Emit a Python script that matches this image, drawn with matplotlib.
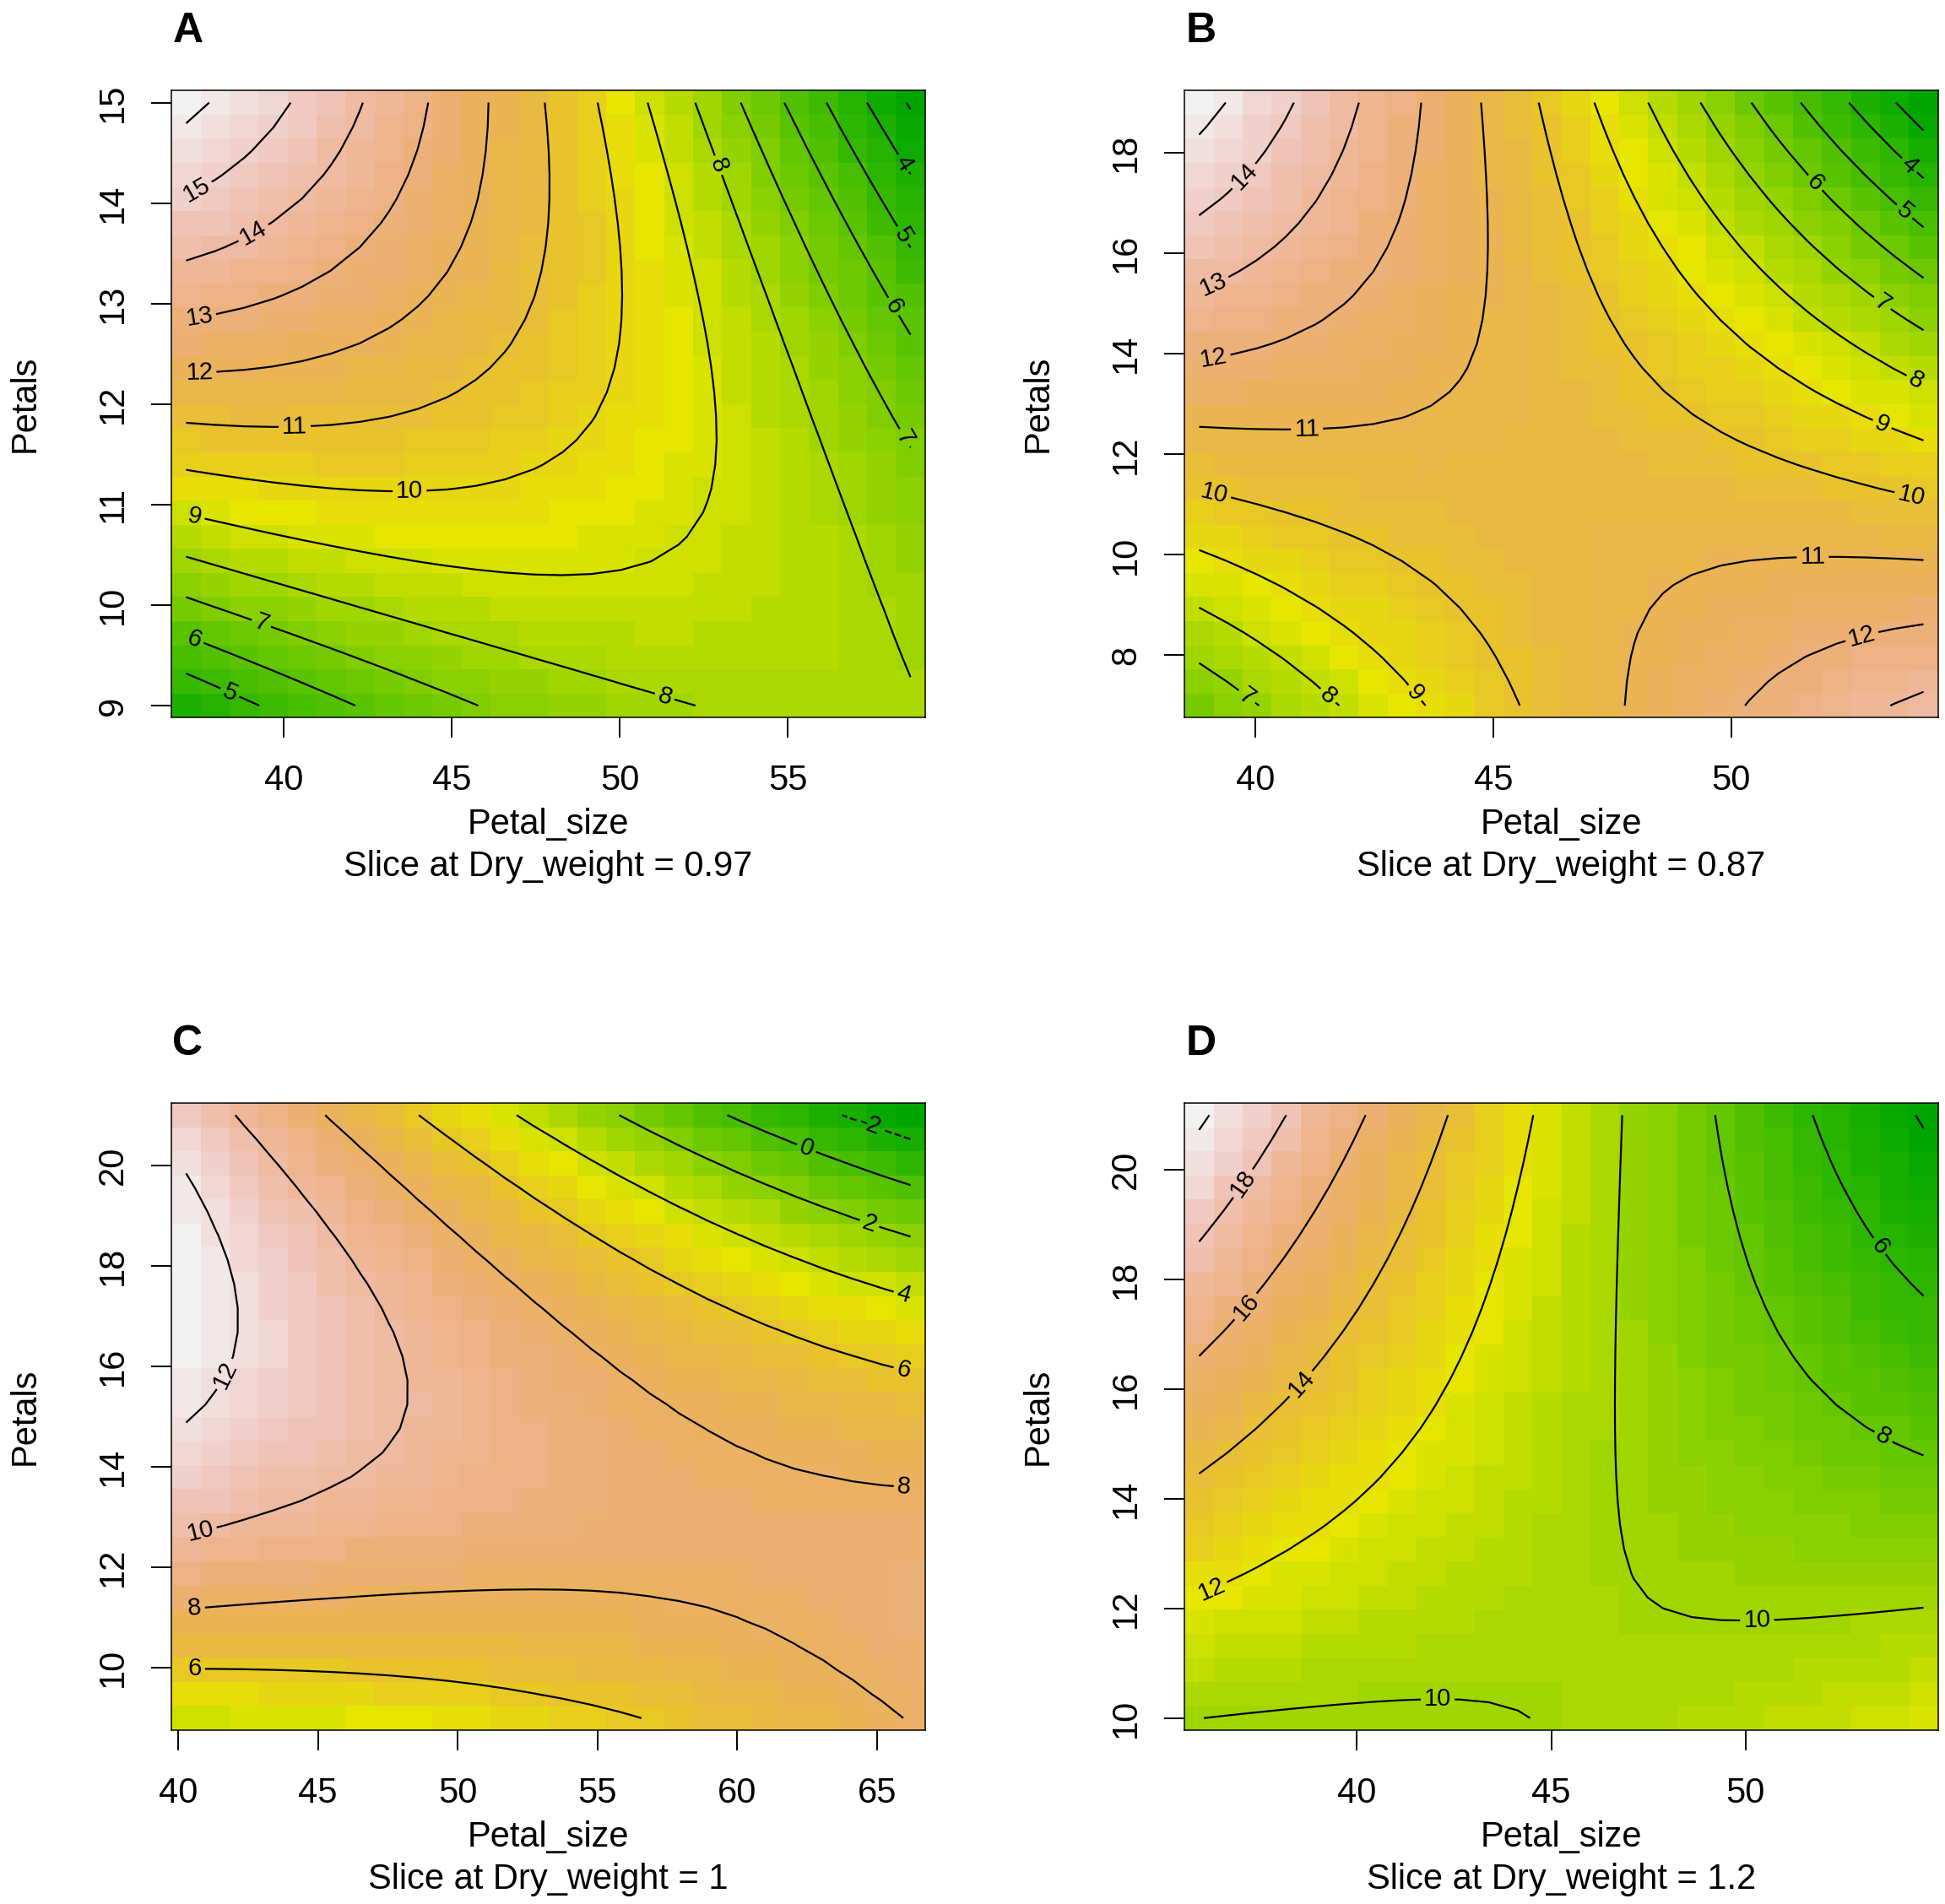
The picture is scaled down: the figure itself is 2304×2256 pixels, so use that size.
import numpy as np
import matplotlib
matplotlib.use("Agg")
import matplotlib.pyplot as plt
from matplotlib.colors import ListedColormap, BoundaryNorm, hsv_to_rgb

plt.rcParams['font.family'] = ['Liberation Sans', 'DejaVu Sans']

# ---- points read along the contour lines of each panel: Petal_size, Petals, level ----
# panel A (slice at Dry_weight = 0.97)
a_px = [37.13, 37.76,
        38.18, 39.02, 39.68, 40.23,
        37.1, 39.64, 41.11, 41.94, 42.36,
        38.3, 41.35, 42.45, 43.0, 44.33,
        38.4, 42.64, 44.48, 45.59, 46.14,
        37.1, 43.56, 45.96, 47.25, 47.8,
        37.1, 42.64, 47.25, 48.91, 49.83, 49.98, 49.37,
        37.93, 42.64, 47.62, 50.02, 51.86, 52.88, 52.6, 50.85,
        37.1, 44.48, 50.94, 52.32, 52.23, 53.15, 55.55, 57.4, 58.14, 58.32,
        37.1, 41.7, 45.78, 53.6, 55.55, 58.14,
        37.93, 42.08, 54.9, 57.77, 58.65,
        37.1, 39.32, 56.2, 57.95,
        57.4, 58.14,
        58.6]
a_py = [14.80, 15.0,
        14.31, 14.51, 14.73, 15.0,
        13.42, 13.8, 14.23, 14.68, 15.0,
        12.94, 13.34, 13.53, 13.78, 15.0,
        12.33, 12.66, 13.19, 14.01, 15.0,
        11.81, 11.95, 12.36, 13.07, 15.0,
        11.34, 11.14, 11.30, 11.71, 12.48, 13.66, 15.0,
        10.83, 10.53, 10.29, 10.33, 10.71, 11.6, 13.07, 15.0,
        10.47, 9.77, 9.15, 9.0, 15.0, 14.07, 12.36, 10.83, 9.83, 9.0,
        10.06, 9.53, 9.0, 15.0, 13.66, 11.77,
        9.59, 9.0, 15.0, 13.07, 12.66,
        9.32, 9.0, 15.0, 13.9,
        15.0, 14.52,
        14.96]
a_pz = [16] * 2 + [15] * 4 + [14] * 5 + [13] * 5 + [12] * 5 + [11] * 5 + [10] * 7 + \
       [9] * 8 + [8] * 10 + [7] * 6 + [6] * 5 + [5] * 4 + [4] * 2 + [3]

# panel B (slice at Dry_weight = 0.87)
b_px = [38.81, 39.39,
        38.81, 39.45, 40.17, 40.8,
        39.65, 40.56, 41.48, 42.19,
        39.71, 41.34, 42.39, 43.17, 43.5,
        38.81, 43.43, 44.35, 44.8, 44.91, 44.77,
        47.74, 48.0, 48.78, 50.35, 54.05,
        39.65, 41.87, 43.43, 44.48, 45.52,
        45.94, 46.57, 47.74, 49.05, 51.0, 53.16,
        38.81, 40.56, 42.13, 43.17, 47.13, 47.74, 49.05, 51.0, 54.05,
        38.81, 40.3, 41.21, 48.26, 49.7, 51.66, 53.49,
        38.81, 39.58, 49.37, 51.0, 52.83, 54.05,
        50.42, 51.53, 54.05,
        51.46, 53.36,
        52.44, 53.49,
        53.45, 54.05,
        50.35, 51.0, 52.05, 54.05,
        53.49, 54.05]
b_py = [18.39, 19.0,
        16.74, 17.21, 17.8, 19.0,
        15.65, 16.21, 17.27, 19.0,
        14.01, 14.62, 15.98, 18.09, 19.0,
        12.54, 12.74, 13.27, 14.45, 16.33, 19.0,
        7.04, 8.56, 9.56, 9.92, 9.88,
        11.06, 10.39, 9.51, 8.56, 7.04,
        19.0, 16.33, 14.21, 12.92, 11.86, 11.29,
        10.09, 9.39, 8.33, 7.51, 19.0, 17.27, 15.15, 13.62, 12.27,
        8.95, 8.21, 7.5, 19.0, 16.8, 15.04, 13.62,
        7.84, 7.41, 19.0, 17.15, 15.15, 14.45,
        19.0, 17.62, 15.5,
        19.0, 17.09,
        19.0, 18.09,
        19.0, 18.45,
        7.04, 7.68, 8.27, 8.6,
        7.04, 7.25]
b_pz = [15] * 2 + [14] * 4 + [13] * 4 + [12] * 5 + [11] * 6 + [11] * 5 + [10] * 5 + \
       [10] * 6 + [9] * 9 + [8] * 7 + [7] * 6 + [6] * 3 + [5] * 2 + [4] * 2 + [3] * 2 + \
       [12] * 4 + [13] * 2

# panel C (slice at Dry_weight = 1)
c_px = [40.29, 41.4, 42.06, 42.17, 42.02, 40.29,
        42.06, 43.61, 45.39, 46.94, 47.94, 48.2, 47.83, 46.72, 44.28, 41.84,
        45.28, 48.05, 51.37, 54.7, 56.92, 60.24, 62.46, 65.23,
        41.4, 45.83, 51.37, 54.7, 58.03, 61.35, 63.57, 66.12,
        41.29, 44.72, 49.16, 53.59, 56.58,
        48.6, 51.37, 54.7, 58.03, 61.35, 65.12,
        52.1, 54.7, 58.03, 61.35, 65.12,
        55.7, 59.13, 62.46, 66.19,
        59.58, 61.8, 66.19,
        63.6, 66.19]
c_py = [19.86, 18.91, 17.61, 16.78, 16.18, 14.82,
        21.0, 19.98, 18.55, 17.25, 16.07, 15.36, 14.41, 13.76, 13.28, 12.83,
        21.0, 19.38, 17.73, 16.18, 15.36, 14.29, 13.82, 13.58,
        11.21, 11.45, 11.56, 11.54, 11.15, 10.5, 9.79, 9.02,
        9.99, 9.93, 9.79, 9.43, 9.02,
        21.0, 19.98, 18.79, 17.73, 16.78, 16.04,
        21.0, 20.09, 19.15, 18.32, 17.55,
        21.0, 20.21, 19.38, 18.55,
        21.0, 20.5, 19.6,
        21.0, 20.49]
c_pz = [12] * 6 + [10] * 10 + [8] * 8 + [8] * 8 + [6] * 5 + [6] * 6 + [4] * 5 + \
       [2] * 4 + [0] * 3 + [-2] * 2

# panel D (slice at Dry_weight = 1.2)
d_px = [36.13, 38.88, 41.28, 43.51, 44.28,
        46.87, 46.71, 46.63, 46.87, 47.19, 47.83, 49.27, 52.46, 54.58,
        36.96, 38.24, 39.68, 41.28, 42.88, 43.83, 44.55,
        35.94, 37.28, 39.04, 40.32, 41.28, 42.36,
        35.94, 36.73, 37.6, 38.88, 40.24,
        35.94, 36.65, 37.44, 38.21,
        35.94, 36.25,
        49.21, 49.9, 50.86, 51.66, 52.94, 54.58,
        51.69, 52.46, 53.1, 54.58,
        54.3, 54.58]
d_py = [10.03, 10.21, 10.3, 10.23, 10.01,
        21.0, 18.23, 14.74, 13.22, 12.57, 12.02, 11.78, 11.83, 11.95,
        12.51, 13.0, 13.87, 15.18, 17.14, 18.99, 21.0,
        14.47, 15.18, 16.49, 17.9, 19.31, 21.0,
        16.59, 17.14, 18.0, 19.31, 21.0,
        18.68, 19.21, 20.18, 21.0,
        20.73, 21.0,
        21.0, 19.1, 17.57, 16.59, 15.4, 14.74,
        21.0, 19.75, 18.88, 17.63,
        21.0, 20.71]
d_pz = [10] * 5 + [10] * 9 + [12] * 7 + [14] * 6 + [16] * 5 + [18] * 4 + [20] * 2 + \
       [8] * 6 + [6] * 4 + [4] * 2

# grid ranges (Petal_size, Petals)
a_xrange, a_yrange = [37.1, 58.65], [9, 15]
b_xrange, b_yrange = [38.81, 54.05], [7, 19]
c_xrange, c_yrange = [40.29, 66.19], [9, 21]
d_xrange, d_yrange = [35.94, 54.58], [10, 21]

a_levels = np.arange(3, 17, 1)
b_levels = np.arange(3, 16, 1)
c_levels = np.arange(-2, 14, 2)
d_levels = np.arange(4, 22, 2)

a_xticks, a_yticks = [40, 45, 50, 55], [9, 10, 11, 12, 13, 14, 15]
b_xticks, b_yticks = [40, 45, 50], [8, 10, 12, 14, 16, 18]
c_xticks, c_yticks = [40, 45, 50, 55, 60, 65], [10, 12, 14, 16, 18, 20]
d_xticks, d_yticks = [40, 45, 50], [10, 12, 14, 16, 18, 20]

slices = ["0.97", "0.87", "1", "1.2"]
letters = ["A", "B", "C", "D"]

# where R put the contour labels
a_labpos = [(37.5, 14.08), (39.13, 13.69), (37.5, 12.85), (37.5, 12.29), (40.33, 11.76),
            (43.75, 11.11), (37.35, 10.87), (51.31, 9.06), (52.88, 14.37), (39.32, 9.80),
            (58.41, 11.65), (37.35, 9.67), (58.04, 12.95), (38.39, 9.12), (58.32, 13.66),
            (58.32, 14.37)]
b_labpos = [(39.78, 17.51), (39.12, 15.35), (39.12, 13.9), (41.08, 12.42), (39.12, 11.17),
            (43.3, 7.21), (41.48, 7.15), (39.84, 7.21), (51.72, 9.92), (52.77, 8.33),
            (53.78, 11.13), (53.16, 12.56), (53.9, 13.5), (53.16, 14.98), (51.72, 17.36),
            (53.62, 16.8), (53.68, 17.68)]
c_labpos = [(41.73, 15.83), (40.8, 12.7), (40.6, 11.17), (40.6, 9.99), (65.95, 13.55),
            (65.95, 15.95), (65.95, 17.45), (64.68, 18.77), (62.46, 20.33), (64.68, 20.71)]
d_labpos = [(37.08, 19.75), (37.12, 17.52), (38.56, 16.1), (36.3, 12.28), (42.08, 10.26),
            (50.3, 11.73), (53.5, 15.07), (53.34, 18.55)]


def terrain_colors(n):
    k = n // 2
    h = np.r_[np.linspace(4 / 12, 2 / 12, k), np.linspace(2 / 12, 0, n - k + 1)[1:]]
    s = np.r_[np.linspace(1, 1, k), np.linspace(1, 0, n - k + 1)[1:]]
    v = np.r_[np.linspace(0.65, 0.9, k), np.linspace(0.9, 0.95, n - k + 1)[1:]]
    return hsv_to_rgb(np.column_stack([h, s, v]))


def surface(px, py, pz, xr, yr, n=26):
    # second order response surface through the read points
    px, py, pz = np.asarray(px), np.asarray(py), np.asarray(pz, dtype=float)
    mx, my = np.mean(px), np.mean(py)
    u, v = px - mx, py - my
    A = np.column_stack([np.ones_like(u), u, v, u * u, v * v, u * v])
    coef = np.linalg.lstsq(A, pz, rcond=None)[0]
    gx = np.linspace(xr[0], xr[1], n)
    gy = np.linspace(yr[0], yr[1], n)
    U, V = np.meshgrid(gx - mx, gy - my)
    Z = coef[0] + coef[1] * U + coef[2] * V + coef[3] * U * U + coef[4] * V * V + coef[5] * U * V
    return gx, gy, Z


panels = [
    (a_px, a_py, a_pz, a_xrange, a_yrange, a_levels, a_xticks, a_yticks, a_labpos),
    (b_px, b_py, b_pz, b_xrange, b_yrange, b_levels, b_xticks, b_yticks, b_labpos),
    (c_px, c_py, c_pz, c_xrange, c_yrange, c_levels, c_xticks, c_yticks, c_labpos),
    (d_px, d_py, d_pz, d_xrange, d_yrange, d_levels, d_xticks, d_yticks, d_labpos),
]

W, H = 2304, 2256
fig = plt.figure(figsize=(W / 100, H / 100), dpi=100)
lefts = [203.3, 1403.3, 203.3, 1403.3]
bottoms = [850.3, 850.3, 2050, 2050]
bw, bh = 892.4, 743
fs = 30

cmap = ListedColormap(terrain_colors(50))

for i, (px, py, pz, xr, yr, levels, xt, yt, labpos) in enumerate(panels):
    ax = fig.add_axes([lefts[i] / W, 1 - bottoms[i] / H, bw / W, bh / H])
    gx, gy, Z = surface(px, py, pz, xr, yr)
    norm = BoundaryNorm(np.linspace(Z.min(), Z.max(), 51), 50)
    ax.pcolormesh(gx, gy, Z, shading='nearest', cmap=cmap, norm=norm)
    dx = (gx[1] - gx[0]) / 2
    dy = (gy[1] - gy[0]) / 2
    ax.set_xlim(gx[0] - dx, gx[-1] + dx)
    ax.set_ylim(gy[0] - dy, gy[-1] + dy)
    cs = ax.contour(gx, gy, Z, levels=levels, colors='black', linewidths=1.6)
    ax.clabel(cs, fmt='%g', fontsize=21, manual=labpos, inline=True, inline_spacing=4)

    ax.set_xticks(xt)
    ax.set_yticks(yt)
    ax.tick_params(direction='out', length=17.3, width=1.4, labelsize=fs, colors='black')
    ax.tick_params(axis='x', pad=22)
    ax.tick_params(axis='y', pad=18)
    for lab in ax.get_yticklabels():
        lab.set_rotation(90)
        lab.set_va('center')
    for sp in ax.spines.values():
        sp.set_linewidth(1.1)

    ax.text(0.5, -127 / bh, "Petal_size", transform=ax.transAxes, ha='center', va='center',
            fontsize=fs)
    ax.text(0.5, -177 / bh, "Slice at Dry_weight = " + slices[i], transform=ax.transAxes,
            ha='center', va='center', fontsize=fs)
    ax.text(-173.3 / bw, 0.5, "Petals", transform=ax.transAxes, ha='center', va='center',
            rotation=90, fontsize=fs)
    ax.text(1 / bw, 1 + 57.3 / bh, letters[i], transform=ax.transAxes, ha='left',
            va='baseline', fontsize=36, fontweight='bold')

fig.savefig("out.png", dpi=100)
